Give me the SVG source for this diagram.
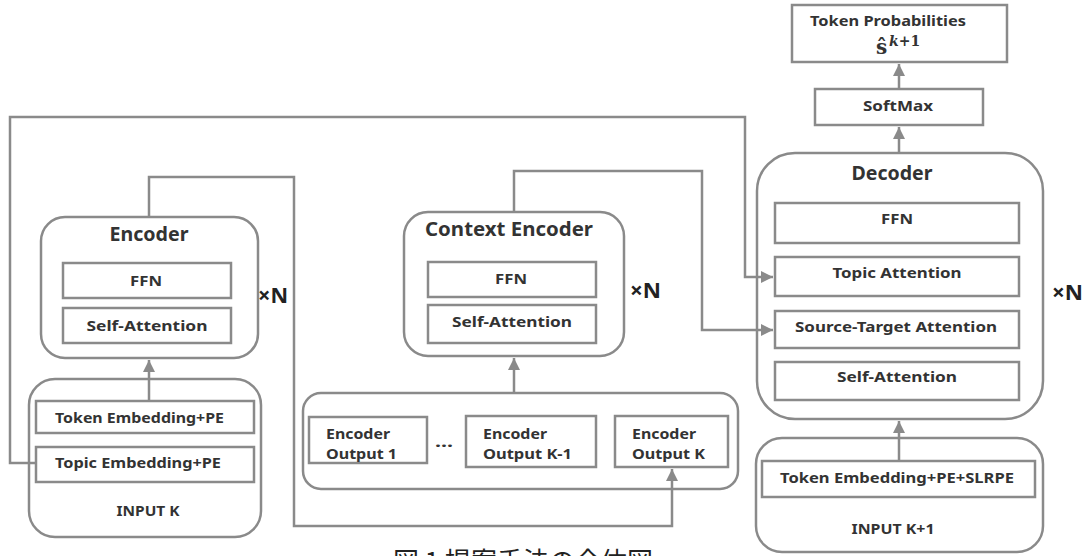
<svg xmlns="http://www.w3.org/2000/svg" width="1089" height="556" viewBox="0 0 1089 556">
<defs>
<style>
.b{fill:#fff;stroke:#8a8a8a;stroke-width:2.5}
.c{fill:none;stroke:#8a8a8a;stroke-width:2.5}
.t{font-family:"Noto Sans","DejaVu Sans",sans-serif;font-weight:bold;fill:#333;font-size:15px}
.m{text-anchor:middle}
.h{font-size:20px}
.x{font-size:21px;fill:#222}
</style>
<marker id="ah" markerUnits="userSpaceOnUse" markerWidth="12" markerHeight="12" refX="10" refY="5" orient="auto" viewBox="0 0 10 10">
<path d="M0,0 L10,5 L0,10 Z" fill="#8a8a8a"/>
</marker>
</defs>
<rect width="1089" height="556" fill="#fff"/>

<g id="encoder">
<rect class="b" x="41" y="217" width="217" height="141" rx="24"/>
<text class="t h m" x="149" y="241" textLength="79" lengthAdjust="spacingAndGlyphs">Encoder</text>
<rect class="b" x="63" y="263" width="168" height="35"/>
<text class="t m" x="146" y="286" textLength="32" lengthAdjust="spacingAndGlyphs">FFN</text>
<rect class="b" x="63" y="308" width="168" height="35"/>
<text class="t m" x="147" y="331" textLength="121" lengthAdjust="spacingAndGlyphs">Self-Attention</text>
<text class="t x" x="258" y="303" textLength="30" lengthAdjust="spacingAndGlyphs">×N</text>
</g>

<g id="input-k">
<rect class="b" x="29" y="379" width="232" height="158" rx="26"/>
<rect class="b" x="36" y="401" width="218" height="32"/>
<text class="t" x="55" y="423" textLength="169" lengthAdjust="spacingAndGlyphs">Token Embedding+PE</text>
<rect class="b" x="36" y="447" width="218" height="35"/>
<text class="t" x="55" y="468" textLength="166" lengthAdjust="spacingAndGlyphs">Topic Embedding+PE</text>
<text class="t m" x="148" y="516" textLength="63" lengthAdjust="spacingAndGlyphs">INPUT K</text>
</g>

<g id="context-encoder">
<rect class="b" x="404" y="212" width="220" height="144" rx="24"/>
<text class="t h m" x="509" y="236" textLength="168" lengthAdjust="spacingAndGlyphs">Context Encoder</text>
<rect class="b" x="428" y="262" width="168" height="35"/>
<text class="t m" x="511" y="284" textLength="32" lengthAdjust="spacingAndGlyphs">FFN</text>
<rect class="b" x="428" y="305" width="168" height="38"/>
<text class="t m" x="512" y="327" textLength="120" lengthAdjust="spacingAndGlyphs">Self-Attention</text>
<text class="t x" x="630" y="298" textLength="31" lengthAdjust="spacingAndGlyphs">×N</text>
</g>

<g id="encoder-outputs">
<rect class="b" x="303" y="393" width="435" height="96" rx="18"/>
<rect class="b" x="309" y="417" width="118" height="46"/>
<text class="t" x="326" y="439" textLength="64" lengthAdjust="spacingAndGlyphs">Encoder</text>
<text class="t" x="326" y="459" textLength="71" lengthAdjust="spacingAndGlyphs">Output 1</text>
<text class="t" x="435" y="447" textLength="18" lengthAdjust="spacingAndGlyphs">...</text>
<rect class="b" x="466" y="416" width="130" height="51"/>
<text class="t" x="483" y="439" textLength="64" lengthAdjust="spacingAndGlyphs">Encoder</text>
<text class="t" x="483" y="459" textLength="89" lengthAdjust="spacingAndGlyphs">Output K-1</text>
<rect class="b" x="615" y="416" width="113" height="51"/>
<text class="t" x="632" y="439" textLength="64" lengthAdjust="spacingAndGlyphs">Encoder</text>
<text class="t" x="632" y="459" textLength="73" lengthAdjust="spacingAndGlyphs">Output K</text>
</g>

<g id="decoder">
<rect class="b" x="757" y="153" width="286" height="266" rx="38"/>
<text class="t h m" x="892" y="180" textLength="81" lengthAdjust="spacingAndGlyphs">Decoder</text>
<rect class="b" x="775" y="203" width="244" height="40"/>
<text class="t m" x="897" y="224" textLength="32" lengthAdjust="spacingAndGlyphs">FFN</text>
<rect class="b" x="775" y="257" width="244" height="39"/>
<text class="t m" x="897" y="278" textLength="129" lengthAdjust="spacingAndGlyphs">Topic Attention</text>
<rect class="b" x="775" y="311" width="244" height="37"/>
<text class="t m" x="896" y="332" textLength="202" lengthAdjust="spacingAndGlyphs">Source-Target Attention</text>
<rect class="b" x="775" y="362" width="244" height="38"/>
<text class="t m" x="897" y="382" textLength="120" lengthAdjust="spacingAndGlyphs">Self-Attention</text>
<text class="t x" x="1052" y="300" textLength="31" lengthAdjust="spacingAndGlyphs">×N</text>
</g>

<g id="input-k1">
<rect class="b" x="756" y="438" width="287" height="114" rx="26"/>
<rect class="b" x="762" y="461" width="273" height="36"/>
<text class="t" x="780" y="483" textLength="234" lengthAdjust="spacingAndGlyphs">Token Embedding+PE+SLRPE</text>
<text class="t m" x="893" y="534" textLength="83" lengthAdjust="spacingAndGlyphs">INPUT K+1</text>
</g>

<g id="softmax">
<rect class="b" x="815" y="89" width="168" height="36"/>
<text class="t m" x="898" y="111" textLength="70" lengthAdjust="spacingAndGlyphs">SoftMax</text>
</g>

<g id="token-probabilities">
<rect class="b" x="792" y="5" width="215" height="57"/>
<text class="t" x="810" y="26" textLength="156" lengthAdjust="spacingAndGlyphs">Token Probabilities</text>
<text x="876" y="54" font-family="'DejaVu Serif',serif" font-weight="bold" font-size="20" fill="#333">ŝ</text>
<text x="889" y="46" font-family="'DejaVu Serif',serif" font-weight="bold" font-size="14" fill="#333"><tspan font-style="italic">k</tspan>+1</text>
</g>

<g id="connectors">
<path class="c" d="M36,463 H10 V117 H745 V277 H773" marker-end="url(#ah)"/>
<path class="c" d="M149,217 V177 H294 V526 H672 V469" marker-end="url(#ah)"/>
<path class="c" d="M514,212 V171 H702 V330 H773" marker-end="url(#ah)"/>
<path class="c" d="M149,401 V360" marker-end="url(#ah)"/>
<path class="c" d="M514,393 V358" marker-end="url(#ah)"/>
<path class="c" d="M899,461 V421" marker-end="url(#ah)"/>
<path class="c" d="M899,153 V127" marker-end="url(#ah)"/>
<path class="c" d="M899,89 V64" marker-end="url(#ah)"/>
</g>

<text x="393" y="571" font-family="'Noto Sans CJK JP',sans-serif" font-size="26" fill="#222">図 1 提案手法の全体図</text>
</svg>
